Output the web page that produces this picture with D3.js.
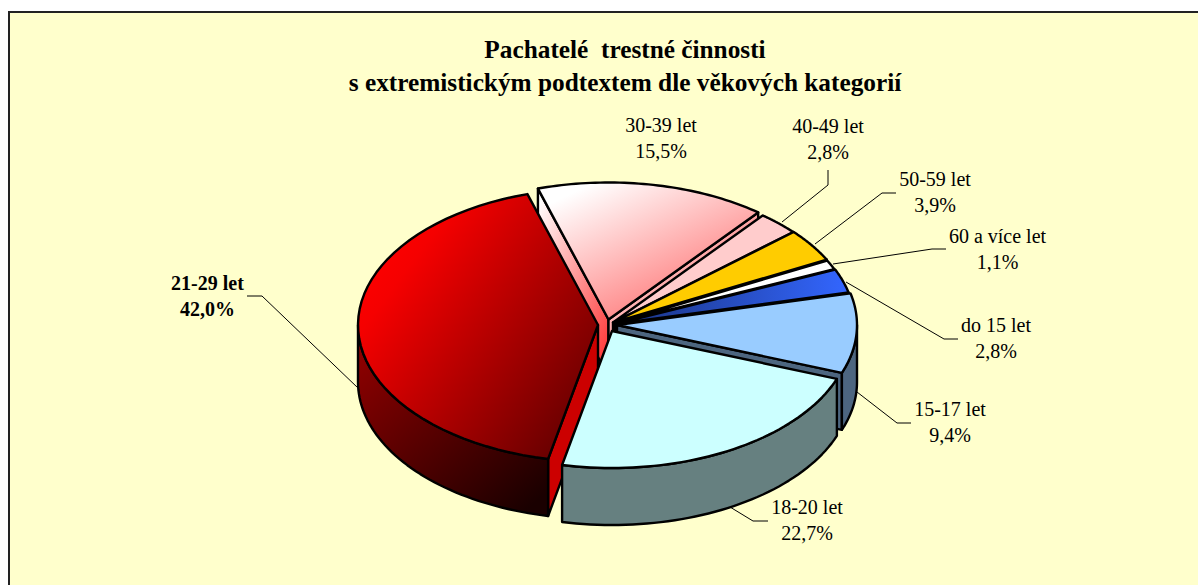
<!DOCTYPE html>
<html>
<head>
<meta charset="utf-8">
<script src="https://cdn.jsdelivr.net/npm/d3@7.9.0/dist/d3.min.js"></script>
<style>
  html, body { margin: 0; padding: 0; background: #fff; }
  svg { display: block; }
  text { font-family: "Liberation Serif", serif; fill: #000; }
</style>
</head>
<body>
<svg id="chart" width="1198" height="585"></svg>
<script>
const titleLines = ['Pachatelé\u00a0 trestné činnosti', 's extremistickým podtextem dle věkových kategorií'];
const categories = ['21-29 let', '30-39 let', '40-49 let', '50-59 let', '60 a více let', 'do 15 let', '15-17 let', '18-20 let'];
const values = [42.0, 15.5, 2.8, 3.9, 1.1, 2.8, 9.4, 22.7];
const valueLabels = ['42,0%', '15,5%', '2,8%', '3,9%', '1,1%', '2,8%', '9,4%', '22,7%'];

// per slice styling, same order as categories
const centers = [[598, 325], [608.5, 319.5], [613, 322.5], [613.5, 322.5], [614, 323.5], [615, 324], [617, 325], [612, 331]];
const topFills = ['url(#redTop)', 'url(#pinkTop)', '#ffcccc', '#ffcc00', '#ffffff', 'url(#blueTop)', '#99ccff', '#ccffff'];
const wallFills = ['url(#redWall)', '#806666', '#806666', '#806600', '#808080', '#1a3380', '#4d6680', '#668080'];
const cutFills = ['#cc0000', 'url(#pinkCut)', '#806666', '#806600', '#808080', '#1a3380', '#4d6680', '#668080'];
const labelPos = [[207.5, 290], [661, 132], [828, 133], [935, 186], [997.5, 243], [996, 332], [950, 416], [807, 514]];
const leaders = [
  [[247, 296], [262, 296], [358, 388]],
  [],
  [[828, 170], [828, 185], [782, 222]],
  [[896, 193], [882, 193], [815, 244]],
  [[946, 249], [932, 249], [833, 264]],
  [[958, 339], [944, 339], [846, 282]],
  [[911, 423], [897, 423], [857, 392]],
  [[768, 521], [753, 521], [730, 507]],
];
const boldLabel = '21-29 let';

const rx = 240;
const ry = 137;
const depth = 57;
const startDeg = 192;
const drawOrder = [1, 2, 3, 4, 5, 6, 0, 7];

const svg = d3.select('#chart');

// gradients
const defs = svg.append('defs');
function addGradient(id, stops, x1, y1, x2, y2) {
  const g = defs.append('linearGradient').attr('id', id)
    .attr('x1', x1).attr('y1', y1).attr('x2', x2).attr('y2', y2);
  stops.forEach(([o, c]) => g.append('stop').attr('offset', o).attr('stop-color', c));
}
addGradient('redTop', [[0, '#ff0000'], [0.15, '#f50000'], [1, '#660000']], 0.1, 0.15, 0.95, 0.85);
addGradient('redWall', [[0, '#990000'], [1, '#1a0000']], 0, 0, 0.85, 1);
addGradient('pinkTop', [[0, '#ffffff'], [0.12, '#ffffff'], [1, '#ff7070']], 0.02, 0, 0.75, 0.95);
addGradient('pinkCut', [[0, '#ffffff'], [1, '#ff3333']], 0.1, 0, 0.9, 1);
addGradient('blueTop', [[0, '#1a3380'], [1, '#3366ff']], 0, 0, 1, 0);

svg.append('rect')
  .attr('x', 9).attr('y', 12).attr('width', 1200).attr('height', 600)
  .attr('fill', '#ffffcc').attr('stroke', '#222').attr('stroke-width', 2);

const pie = d3.pie().sort(null)
  .startAngle(startDeg * Math.PI / 180)
  .endAngle((startDeg + 360) * Math.PI / 180);
const arcs = pie(values);

const project = (c, t, dz = 0) => [c[0] + rx * Math.sin(t), c[1] - ry * Math.cos(t) + dz];
const samples = (a, b) => d3.range(0, 49).map((i) => a + (b - a) * i / 48);
const line = d3.line();

function topPath(c, a) {
  return line([c, ...samples(a.startAngle, a.endAngle).map((t) => project(c, t))]) + 'Z';
}

// outer wall for the part of the rim that faces the viewer (t between 90 and 270 deg)
function wallPath(c, a) {
  const ranges = [[Math.PI / 2, 3 * Math.PI / 2], [Math.PI / 2 + 2 * Math.PI, 3 * Math.PI / 2 + 2 * Math.PI]];
  for (const [lo, hi] of ranges) {
    const s = Math.max(a.startAngle, lo);
    const e = Math.min(a.endAngle, hi);
    if (e > s) {
      const ts = samples(s, e);
      return line([...ts.map((t) => project(c, t)), ...ts.reverse().map((t) => project(c, t, depth))]) + 'Z';
    }
  }
  return null;
}

function cutPath(c, t) {
  return line([c, project(c, t), project(c, t, depth), [c[0], c[1] + depth]]) + 'Z';
}

const slices = svg.append('g').attr('class', 'slices')
  .attr('stroke', '#000').attr('stroke-width', 2.4).attr('stroke-linejoin', 'round');

for (const i of drawOrder) {
  const c = centers[i];
  const a = arcs[i];
  const g = slices.append('g').attr('class', 'slice');
  // the cut face that looks forward: start side on the left half, end side on the right half
  const cuts = [];
  if (Math.sin(a.startAngle) < 0) cuts.push(a.startAngle);
  if (Math.sin(a.endAngle) > 0) cuts.push(a.endAngle);
  cuts.forEach((t) => g.append('path').attr('d', cutPath(c, t)).attr('fill', cutFills[i]));
  const wall = wallPath(c, a);
  if (wall) g.append('path').attr('d', wall).attr('fill', wallFills[i]);
  g.append('path').attr('d', topPath(c, a)).attr('fill', topFills[i]);
}

// leader lines
svg.append('g').attr('class', 'leaders')
  .selectAll('path')
  .data(leaders.filter((d) => d.length))
  .join('path')
  .attr('d', (d) => line(d))
  .attr('fill', 'none')
  .attr('stroke', '#000')
  .attr('stroke-width', 1);

// titles
svg.append('g').selectAll('text')
  .data(titleLines)
  .join('text')
  .attr('x', 625)
  .attr('y', (d, i) => 58 + i * 33)
  .attr('text-anchor', 'middle')
  .attr('font-size', 25.3)
  .attr('font-weight', 'bold')
  .text((d) => d);

// data labels
const labels = svg.append('g').selectAll('text')
  .data(categories)
  .join('text')
  .attr('text-anchor', 'middle')
  .attr('font-size', 20)
  .attr('font-weight', (d) => d === boldLabel ? 'bold' : 'normal')
  .attr('x', (d, i) => labelPos[i][0])
  .attr('y', (d, i) => labelPos[i][1]);
labels.append('tspan').text((d) => d);
labels.append('tspan')
  .attr('x', (d, i) => labelPos[i][0])
  .attr('dy', 26)
  .text((d, i) => valueLabels[i]);
</script>
</body>
</html>
